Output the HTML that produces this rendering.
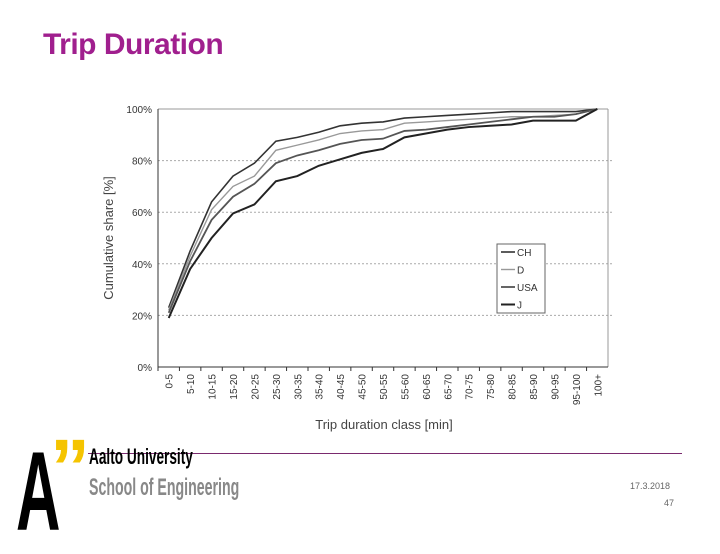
<!DOCTYPE html>
<html><head><meta charset="utf-8"><style>
body{margin:0;width:720px;height:540px;background:#fff;overflow:hidden;position:relative;font-family:"Liberation Sans",sans-serif}
</style></head><body>
<div style="position:absolute;left:43px;top:28px;font-size:30px;font-weight:bold;color:#a01f8e;letter-spacing:-0.5px">Trip Duration</div>
<svg id="chart" width="720" height="540" style="position:absolute;left:0;top:0" font-family="Liberation Sans, sans-serif"></svg>
<div style="position:absolute;left:88px;top:453px;width:594px;height:1px;background:#7a2a6e"></div>
<div style="position:absolute;left:16px;top:436px;font-size:112px;font-weight:bold;line-height:1;color:#000;transform:scaleX(0.55);transform-origin:left top;font-family:'Liberation Sans',sans-serif">A</div>
<div style="position:absolute;left:50px;top:428px;font-size:80px;font-weight:bold;color:#f5c400;line-height:1">”</div>
<div style="position:absolute;left:89px;top:444px;font-size:22px;font-weight:bold;color:#000;transform:scaleX(0.62);transform-origin:left top;white-space:nowrap">Aalto University</div>
<div style="position:absolute;left:89px;top:474px;font-size:24px;font-weight:bold;color:#888;transform:scaleX(0.59);transform-origin:left top;white-space:nowrap">School of Engineering</div>
<div style="position:absolute;left:630px;top:481px;font-size:9px;color:#666">17.3.2018</div>
<div style="position:absolute;left:664px;top:498px;font-size:9px;color:#666">47</div>
<script>
const categories=["0-5","5-10","10-15","15-20","20-25","25-30","30-35","35-40","40-45","45-50","50-55","55-60","60-65","65-70","70-75","75-80","80-85","85-90","90-95","95-100","100+"];
const seriesNames=["CH","D","USA","J"];
const chValues=[23,45,64,74,79,87.5,89,91,93.5,94.5,95,96.5,97,97.5,98,98.5,99,99,99,99,100];
const dValues=[22,43,61,70,74,84,86,88,90.5,91.5,92,94.5,95,95.5,96,96.5,97,97,97.5,98,100];
const usaValues=[21,41,57,66,71,79,82,84,86.5,88,88.5,91.5,92,93,94,95,96,97,97,98,100];
const jValues=[19,38,50,59.5,63,72,74,78,80.5,83,84.5,89,90.5,92,93,93.5,94,95.5,95.5,95.5,100];
const yTicks=[0,20,40,60,80,100];
const svg=document.getElementById('chart');const NS='http://www.w3.org/2000/svg';
const L=158,R=608,T=109,B=367;
const bw=(R-L)/categories.length;
const x=i=>L+bw*(i+0.5);
const y=v=>B-(v/100)*(B-T);
function mk(t,a,p){const e=document.createElementNS(NS,t);for(const k in a)e.setAttribute(k,a[k]);(p||svg).appendChild(e);return e;}
yTicks.forEach(v=>{
 if(v>0&&v<100){const g=mk('line',{x1:L,x2:R+6,y1:y(v),y2:y(v),stroke:'#aaa','stroke-dasharray':'2,2'});}
 const t=mk('text',{x:L-6,y:y(v)+4,'text-anchor':'end','font-size':'10',fill:'#333'});t.textContent=v+'%';
 
});
const topBorder=mk('line',{x1:L,x2:R,y1:T,y2:T,stroke:'#999'});
const rb=mk('line',{x1:R,x2:R,y1:T,y2:B,stroke:'#999'});
const ya=mk('line',{x1:L,x2:L,y1:T,y2:B,stroke:'#333'});
const xa=mk('line',{x1:L,x2:R,y1:B,y2:B,stroke:'#333'});
categories.forEach((c,i)=>{
 const tk=mk('line',{x1:L+bw*i,x2:L+bw*i,y1:B,y2:B+4,stroke:'#333'});
 const t=mk('text',{transform:`translate(${x(i)+4},374) rotate(-90)`,'text-anchor':'end','font-size':'10',fill:'#333'});t.textContent=c;
 
});
const yt=mk('text',{transform:'translate(113,238) rotate(-90)','text-anchor':'middle','font-size':'13',fill:'#444'});yt.textContent='Cumulative share [%]';

const xt=mk('text',{x:384,y:429,'text-anchor':'middle','font-size':'13',fill:'#444'});xt.textContent='Trip duration class [min]';

const allSeries=[chValues,dValues,usaValues,jValues];
const colors=['#333','#999','#555','#222'];const widths=[1.6,1.4,1.8,2];
allSeries.forEach((s,k)=>{
 const p=mk('polyline',{points:s.map((v,i)=>x(i)+','+y(v)).join(' '),fill:'none',stroke:colors[k],'stroke-width':widths[k]});
 
});
const lg=mk('rect',{x:497,y:244,width:48,height:69,fill:'#fff',stroke:'#666'});

seriesNames.forEach((n,k)=>{
 const ly=252+k*17.5;
 const l=mk('line',{x1:501,x2:515,y1:ly,y2:ly,stroke:colors[k],'stroke-width':widths[k]});
 
 const t=mk('text',{x:517,y:ly+4,'font-size':'10',fill:'#333'});t.textContent=n;
 
});
</script>
</body></html>
